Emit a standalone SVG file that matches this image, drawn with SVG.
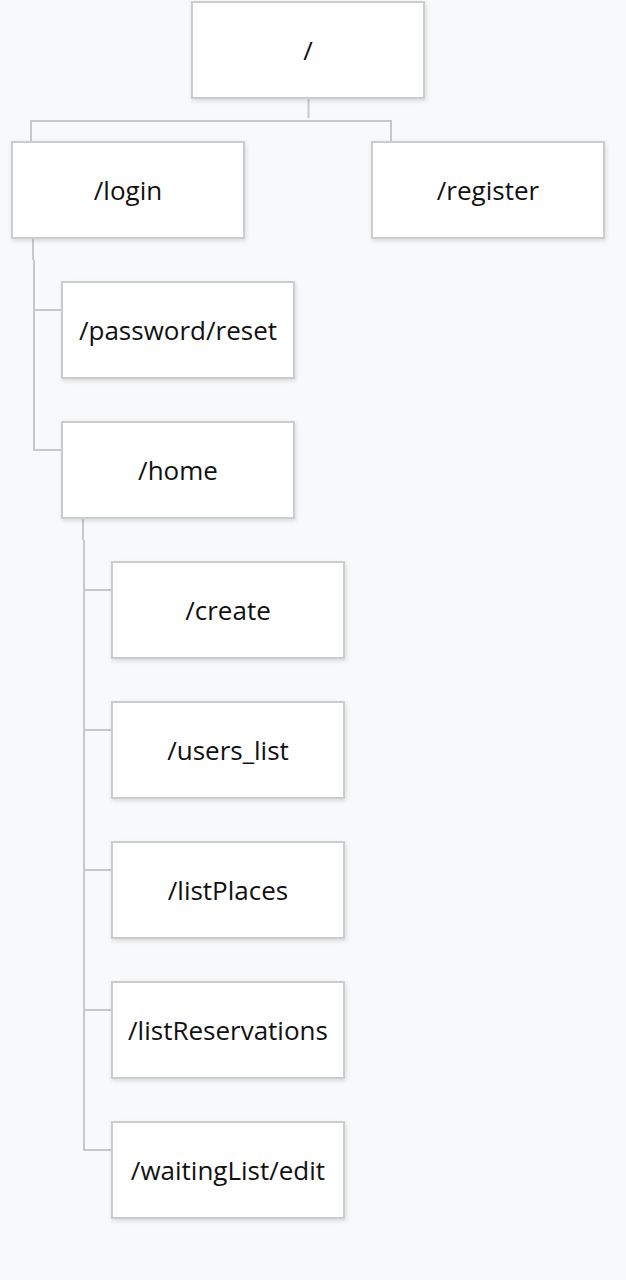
<svg xmlns="http://www.w3.org/2000/svg" width="626" height="1280" viewBox="0 0 626 1280">
<defs>
<filter id="sh" x="-10%" y="-10%" width="125%" height="130%">
<feDropShadow dx="1" dy="2" stdDeviation="2" flood-color="#000" flood-opacity="0.12"/>
</filter>
</defs>
<style>
.box{fill:#fff;stroke:#cccccc;stroke-width:2;filter:url(#sh)}
.lbl{font-family:"Open Sans","Noto Sans",sans-serif;font-size:26px;fill:#111;text-anchor:middle}
.ln{fill:none;stroke:#c8c8c8;stroke-width:2}
</style>
<rect width="626" height="1280" fill="#f8f9fb"/>
<g id="connectors">
<path class="ln" d="M308.5 99V118"/>
<path class="ln" d="M31 141V121H391V141"/>
<path class="ln" d="M33 238V260"/>
<path class="ln" d="M34 260V450M33 310H61M33 450H61"/>
<path class="ln" d="M83 518V540"/>
<path class="ln" d="M84 540V1150M83 590H111M83 730H111M83 870H111M83 1010H111M83 1150H111"/>
</g>
<g id="n-root"><rect class="box" x="192" y="2" width="232" height="96"/><text class="lbl" x="308" y="60">/</text></g>
<g id="n-login"><rect class="box" x="12" y="142" width="232" height="96"/><text class="lbl" x="128" y="200">/login</text></g>
<g id="n-register"><rect class="box" x="372" y="142" width="232" height="96"/><text class="lbl" x="488" y="200">/register</text></g>
<g id="n-password"><rect class="box" x="62" y="282" width="232" height="96"/><text class="lbl" x="178" y="340">/password/reset</text></g>
<g id="n-home"><rect class="box" x="62" y="422" width="232" height="96"/><text class="lbl" x="178" y="480">/home</text></g>
<g id="n-create"><rect class="box" x="112" y="562" width="232" height="96"/><text class="lbl" x="228" y="620">/create</text></g>
<g id="n-users"><rect class="box" x="112" y="702" width="232" height="96"/><text class="lbl" x="228" y="760">/users_list</text></g>
<g id="n-places"><rect class="box" x="112" y="842" width="232" height="96"/><text class="lbl" x="228" y="900">/listPlaces</text></g>
<g id="n-reserv"><rect class="box" x="112" y="982" width="232" height="96"/><text class="lbl" x="228" y="1040">/listReservations</text></g>
<g id="n-waiting"><rect class="box" x="112" y="1122" width="232" height="96"/><text class="lbl" x="228" y="1180">/waitingList/edit</text></g>
</svg>
